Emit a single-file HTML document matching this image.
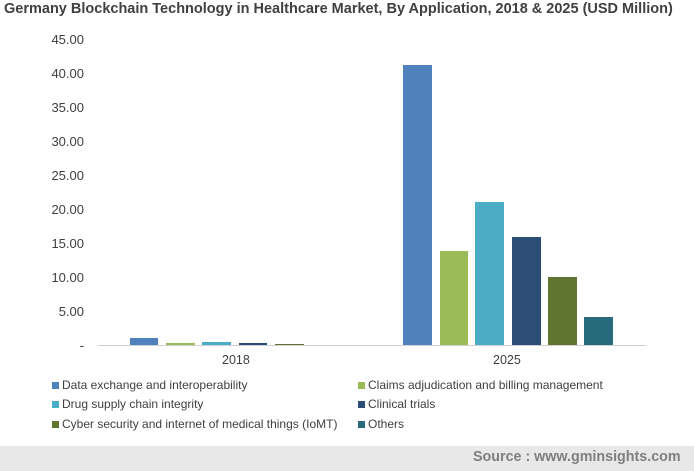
<!DOCTYPE html>
<html><head><style>
body{margin:0;width:694px;height:471px;background:#fff;font-family:"Liberation Sans",sans-serif;position:relative;overflow:hidden}
.t{position:absolute;white-space:nowrap}
.b{position:absolute}
.lg{position:absolute;font-size:12px;color:#404040;white-space:nowrap}
.lg i{display:inline-block;width:7px;height:7px;margin-right:3px;vertical-align:0px}
</style></head><body>
<div class="t" style="left:4px;top:1px;font-size:14.5px;font-weight:bold;color:#404040">Germany Blockchain Technology in Healthcare Market, By Application, 2018 &amp; 2025 (USD Million)</div>
<div id="y"></div>
<div class="b" style="left:98px;top:345px;width:548px;height:1px;background:#d0d0d0"></div>
<div class="b" style="left:130px;top:338px;width:28px;height:7px;background:#4f81bd"></div>
<div class="b" style="left:166px;top:343px;width:29px;height:2px;background:#9bbb59"></div>
<div class="b" style="left:202px;top:342px;width:29px;height:3px;background:#4bacc6"></div>
<div class="b" style="left:239px;top:343px;width:28px;height:2px;background:#2c4d75"></div>
<div class="b" style="left:275px;top:344px;width:29px;height:1px;background:#5f7530"></div>
<div class="b" style="left:403px;top:65px;width:29px;height:280px;background:#4f81bd"></div>
<div class="b" style="left:440px;top:251px;width:28px;height:94px;background:#9bbb59"></div>
<div class="b" style="left:475px;top:202px;width:29px;height:143px;background:#4bacc6"></div>
<div class="b" style="left:512px;top:237px;width:29px;height:108px;background:#2c4d75"></div>
<div class="b" style="left:548px;top:277px;width:29px;height:68px;background:#5f7530"></div>
<div class="b" style="left:584px;top:317px;width:29px;height:28px;background:#276a7c"></div>
<div class="t" style="left:222px;top:353px;font-size:12.5px;color:#404040">2018</div>
<div class="t" style="left:493px;top:353px;font-size:12.5px;color:#404040">2025</div>
<div class="lg" style="left:52px;top:378px"><i style="background:#4f81bd"></i>Data exchange and interoperability</div>
<div class="lg" style="left:358px;top:378px"><i style="background:#9bbb59"></i>Claims adjudication and billing management</div>
<div class="lg" style="left:52px;top:397px"><i style="background:#4bacc6"></i>Drug supply chain integrity</div>
<div class="lg" style="left:358px;top:397px"><i style="background:#2c4d75"></i>Clinical trials</div>
<div class="lg" style="left:52px;top:417px"><i style="background:#5f7530"></i>Cyber security and internet of medical things (IoMT)</div>
<div class="lg" style="left:358px;top:417px"><i style="background:#276a7c"></i>Others</div>
<div class="b" style="left:0;top:446px;width:694px;height:25px;background:#e8e8e8"></div>
<div class="t" style="left:473px;top:449px;font-size:14.3px;font-weight:bold;color:#7f7f7f">Source : www.gminsights.com</div>
<script>
var h='';var labs=['-','5.00','10.00','15.00','20.00','25.00','30.00','35.00','40.00','45.00'];
for(var i=0;i<10;i++){var y=345-i*34;h+='<div class="t" style="right:610px;top:'+(y-7)+'px;font-size:13px;color:#404040;text-align:right">'+labs[i]+'</div>';}
document.getElementById('y').innerHTML=h;
</script>
</body></html>
